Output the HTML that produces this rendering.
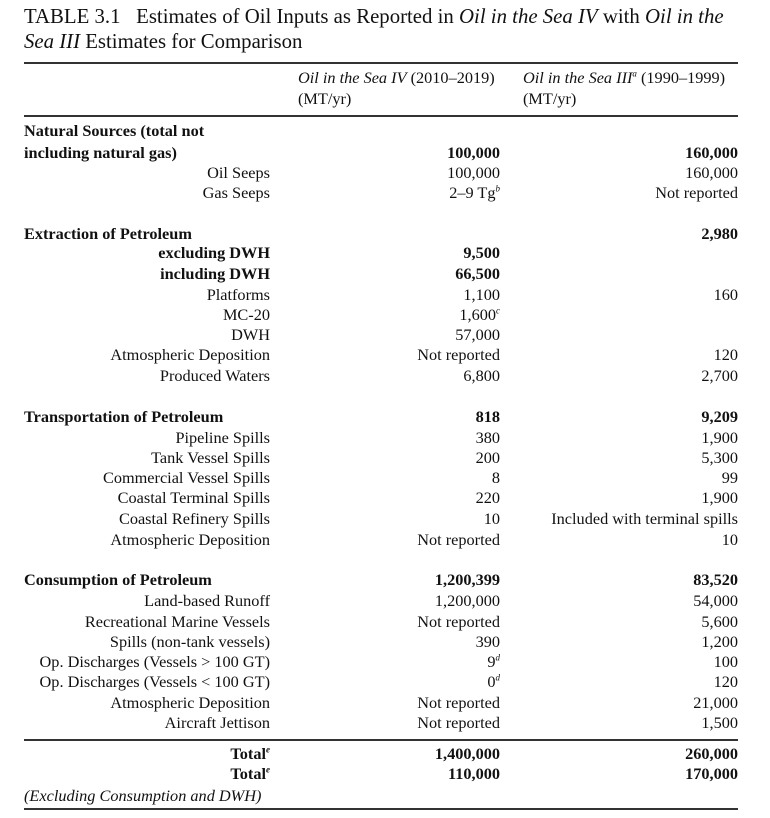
<!DOCTYPE html>
<html><head><meta charset="utf-8"><style>
body{margin:0;background:#fff;width:770px;height:818px;position:relative;overflow:hidden;font-family:"Liberation Serif",serif;color:#111}
.t{position:absolute;font-size:20.8px;left:24px;white-space:nowrap;line-height:24px}
.r{position:absolute;left:0;width:770px;height:20px;line-height:20px;font-size:16.3px;white-space:nowrap}
.r span{position:absolute;top:0}
.ll{left:24px}
.a{right:500px}
.c1{right:270px}
.c2{right:32px}
.bd{font-weight:bold}
.hr{position:absolute;left:24px;width:714px;background:#333}
sup{font-size:9px;line-height:0;font-style:italic}
i{font-style:italic}
</style></head><body>
<div class="t" style="top:5px">TABLE 3.1&nbsp;&nbsp;&nbsp;Estimates of Oil Inputs as Reported in <i>Oil in the Sea IV</i> with <i>Oil in the</i></div>
<div class="t" style="top:30px"><i>Sea III</i> Estimates for Comparison</div>
<div class="hr" style="top:62px;height:2px"></div>
<div class="r" style="top:68px"><span style="left:298px"><i>Oil in the Sea IV</i> (2010–2019)</span><span style="left:523px"><i>Oil in the Sea III<sup>a</sup></i> (1990–1999)</span></div>
<div class="r" style="top:89px"><span style="left:298px">(MT/yr)</span><span style="left:523px">(MT/yr)</span></div>
<div class="hr" style="top:115px;height:2px"></div>

<div class="r bd" style="top:121px"><span class="ll">Natural Sources (total not</span></div>
<div class="r bd" style="top:143px"><span class="ll">including natural gas)</span><span class="c1">100,000</span><span class="c2">160,000</span></div>
<div class="r" style="top:163px"><span class="a">Oil Seeps</span><span class="c1">100,000</span><span class="c2">160,000</span></div>
<div class="r" style="top:183px"><span class="a">Gas Seeps</span><span class="c1">2–9 Tg<sup>b</sup></span><span class="c2">Not reported</span></div>

<div class="r bd" style="top:224px"><span class="ll">Extraction of Petroleum</span><span class="c2">2,980</span></div>
<div class="r bd" style="top:243px"><span class="a">excluding DWH</span><span class="c1">9,500</span></div>
<div class="r bd" style="top:264px"><span class="a">including DWH</span><span class="c1">66,500</span></div>
<div class="r" style="top:285px"><span class="a">Platforms</span><span class="c1">1,100</span><span class="c2">160</span></div>
<div class="r" style="top:305px"><span class="a">MC-20</span><span class="c1">1,600<sup>c</sup></span></div>
<div class="r" style="top:325px"><span class="a">DWH</span><span class="c1">57,000</span></div>
<div class="r" style="top:345px"><span class="a">Atmospheric Deposition</span><span class="c1">Not reported</span><span class="c2">120</span></div>
<div class="r" style="top:366px"><span class="a">Produced Waters</span><span class="c1">6,800</span><span class="c2">2,700</span></div>

<div class="r bd" style="top:407px"><span class="ll">Transportation of Petroleum</span><span class="c1">818</span><span class="c2">9,209</span></div>
<div class="r" style="top:428px"><span class="a">Pipeline Spills</span><span class="c1">380</span><span class="c2">1,900</span></div>
<div class="r" style="top:448px"><span class="a">Tank Vessel Spills</span><span class="c1">200</span><span class="c2">5,300</span></div>
<div class="r" style="top:468px"><span class="a">Commercial Vessel Spills</span><span class="c1">8</span><span class="c2">99</span></div>
<div class="r" style="top:488px"><span class="a">Coastal Terminal Spills</span><span class="c1">220</span><span class="c2">1,900</span></div>
<div class="r" style="top:509px"><span class="a">Coastal Refinery Spills</span><span class="c1">10</span><span class="c2">Included with terminal spills</span></div>
<div class="r" style="top:530px"><span class="a">Atmospheric Deposition</span><span class="c1">Not reported</span><span class="c2">10</span></div>

<div class="r bd" style="top:570px"><span class="ll">Consumption of Petroleum</span><span class="c1">1,200,399</span><span class="c2">83,520</span></div>
<div class="r" style="top:591px"><span class="a">Land-based Runoff</span><span class="c1">1,200,000</span><span class="c2">54,000</span></div>
<div class="r" style="top:612px"><span class="a">Recreational Marine Vessels</span><span class="c1">Not reported</span><span class="c2">5,600</span></div>
<div class="r" style="top:632px"><span class="a">Spills (non-tank vessels)</span><span class="c1">390</span><span class="c2">1,200</span></div>
<div class="r" style="top:652px"><span class="a">Op. Discharges (Vessels &gt; 100 GT)</span><span class="c1">9<sup>d</sup></span><span class="c2">100</span></div>
<div class="r" style="top:672px"><span class="a">Op. Discharges (Vessels &lt; 100 GT)</span><span class="c1">0<sup>d</sup></span><span class="c2">120</span></div>
<div class="r" style="top:693px"><span class="a">Atmospheric Deposition</span><span class="c1">Not reported</span><span class="c2">21,000</span></div>
<div class="r" style="top:713px"><span class="a">Aircraft Jettison</span><span class="c1">Not reported</span><span class="c2">1,500</span></div>

<div class="hr" style="top:739px;height:2px"></div>
<div class="r bd" style="top:744px"><span class="a">Total<sup>e</sup></span><span class="c1">1,400,000</span><span class="c2">260,000</span></div>
<div class="r bd" style="top:764px"><span class="a">Total<sup>e</sup></span><span class="c1">110,000</span><span class="c2">170,000</span></div>
<div class="r" style="top:786px"><span class="ll"><i>(Excluding Consumption and DWH)</i></span></div>
<div class="hr" style="top:808px;height:2px"></div>
</body></html>
